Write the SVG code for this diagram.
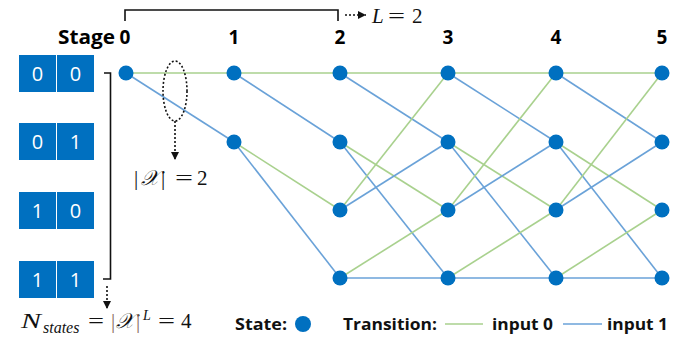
<svg xmlns="http://www.w3.org/2000/svg" width="690" height="339" viewBox="0 0 690 339">
<defs>
<style>
.g{stroke:#A9D18E;stroke-width:1.6;fill:none}
.b{stroke:#6AA2D8;stroke-width:1.6;fill:none}
.n{fill:#0070C0}
.box{fill:#0070C0}
.bt{font-family:"Open Sans","Liberation Sans",sans-serif;font-size:20px;fill:#fff;text-anchor:middle}
.st{font-family:"Open Sans","Liberation Sans",sans-serif;font-weight:bold;font-size:19px;fill:#000;text-anchor:middle}
.lg{font-family:"Open Sans","Liberation Sans",sans-serif;font-weight:bold;font-size:16px;fill:#111}
.m{font-family:"Liberation Serif","DejaVu Serif",serif;font-size:21px;fill:#111}
.i{font-style:italic}
.x{font-family:"DejaVu Serif",serif;font-style:italic}
.br{stroke:#111;stroke-width:1.6;fill:none}
.dot{stroke:#111;stroke-width:1.6;fill:none;stroke-dasharray:2 2}
</style>
<marker id="ah" viewBox="0 0 10 10" refX="10" refY="5" markerWidth="5" markerHeight="5" orient="auto">
<path d="M0,0 L10,5 L0,10 z" fill="#111"/>
</marker>
</defs>

<g id="state-boxes">
<g id="box-00"><rect class="box" x="19" y="55" width="37" height="37"/><rect class="box" x="57" y="55" width="37" height="37"/><text class="bt" x="37.5" y="81">0</text><text class="bt" x="75.5" y="81">0</text></g>
<g id="box-01"><rect class="box" x="19" y="123" width="37" height="37"/><rect class="box" x="57" y="123" width="37" height="37"/><text class="bt" x="37.5" y="149">0</text><text class="bt" x="75.5" y="149">1</text></g>
<g id="box-10"><rect class="box" x="19" y="192" width="37" height="37"/><rect class="box" x="57" y="192" width="37" height="37"/><text class="bt" x="37.5" y="218">1</text><text class="bt" x="75.5" y="218">0</text></g>
<g id="box-11"><rect class="box" x="19" y="261" width="37" height="37"/><rect class="box" x="57" y="261" width="37" height="37"/><text class="bt" x="37.5" y="287">1</text><text class="bt" x="75.5" y="287">1</text></g>
</g>

<g id="stage-labels">
<text class="st" x="86.5" y="44" textLength="57" lengthAdjust="spacingAndGlyphs">Stage</text>
<text class="st" x="125" y="44">0</text>
<text class="st" x="234" y="44">1</text>
<text class="st" x="340" y="44">2</text>
<text class="st" x="448" y="44">3</text>
<text class="st" x="556" y="44">4</text>
<text class="st" x="662" y="44">5</text>
</g>

<g id="connectors">
<line class="g" x1="126" y1="73" x2="234" y2="73"/>
<line class="b" x1="126" y1="73" x2="234" y2="142"/>
<line class="g" x1="234" y1="73" x2="340" y2="73"/>
<line class="b" x1="234" y1="73" x2="340" y2="142"/>
<line class="g" x1="234" y1="142" x2="340" y2="210"/>
<line class="b" x1="234" y1="142" x2="340" y2="278"/>
<g id="stage-2-3">
<line class="g" x1="340" y1="73" x2="448" y2="73"/>
<line class="b" x1="340" y1="73" x2="448" y2="142"/>
<line class="g" x1="340" y1="142" x2="448" y2="210"/>
<line class="b" x1="340" y1="142" x2="448" y2="278"/>
<line class="g" x1="340" y1="210" x2="448" y2="73"/>
<line class="b" x1="340" y1="210" x2="448" y2="142"/>
<line class="g" x1="340" y1="278" x2="448" y2="210"/>
<line class="b" x1="340" y1="278" x2="448" y2="278"/>
</g>
<g id="stage-3-4">
<line class="g" x1="448" y1="73" x2="556" y2="73"/>
<line class="b" x1="448" y1="73" x2="556" y2="142"/>
<line class="g" x1="448" y1="142" x2="556" y2="210"/>
<line class="b" x1="448" y1="142" x2="556" y2="278"/>
<line class="g" x1="448" y1="210" x2="556" y2="73"/>
<line class="b" x1="448" y1="210" x2="556" y2="142"/>
<line class="g" x1="448" y1="278" x2="556" y2="210"/>
<line class="b" x1="448" y1="278" x2="556" y2="278"/>
</g>
<g id="stage-4-5">
<line class="g" x1="556" y1="73" x2="662" y2="73"/>
<line class="b" x1="556" y1="73" x2="662" y2="142"/>
<line class="g" x1="556" y1="142" x2="662" y2="210"/>
<line class="b" x1="556" y1="142" x2="662" y2="278"/>
<line class="g" x1="556" y1="210" x2="662" y2="73"/>
<line class="b" x1="556" y1="210" x2="662" y2="142"/>
<line class="g" x1="556" y1="278" x2="662" y2="210"/>
<line class="b" x1="556" y1="278" x2="662" y2="278"/>
</g>
</g>

<g id="nodes">
<circle class="n" cx="126" cy="73" r="7.5"/>
<circle class="n" cx="234" cy="73" r="7.5"/>
<circle class="n" cx="234" cy="142" r="7.5"/>
<circle class="n" cx="340" cy="73" r="7.5"/>
<circle class="n" cx="340" cy="142" r="7.5"/>
<circle class="n" cx="340" cy="210" r="7.5"/>
<circle class="n" cx="340" cy="278" r="7.5"/>
<circle class="n" cx="448" cy="73" r="7.5"/>
<circle class="n" cx="448" cy="142" r="7.5"/>
<circle class="n" cx="448" cy="210" r="7.5"/>
<circle class="n" cx="448" cy="278" r="7.5"/>
<circle class="n" cx="556" cy="73" r="7.5"/>
<circle class="n" cx="556" cy="142" r="7.5"/>
<circle class="n" cx="556" cy="210" r="7.5"/>
<circle class="n" cx="556" cy="278" r="7.5"/>
<circle class="n" cx="662" cy="73" r="7.5"/>
<circle class="n" cx="662" cy="142" r="7.5"/>
<circle class="n" cx="662" cy="210" r="7.5"/>
<circle class="n" cx="662" cy="278" r="7.5"/>
</g>

<g id="memory-bracket">
<path class="br" d="M125,21 V10 H338 V21"/>
<line class="dot" x1="345" y1="15" x2="366" y2="15" marker-end="url(#ah)"/>
<text class="m" y="23"><tspan class="i" x="372">L</tspan><tspan x="388" textLength="17" lengthAdjust="spacingAndGlyphs">=</tspan><tspan x="412">2</tspan></text>
</g>

<g id="alphabet-annotation">
<ellipse class="dot" cx="175" cy="91" rx="12" ry="30"/>
<line class="dot" x1="175" y1="121" x2="175" y2="160" marker-end="url(#ah)"/>
<text class="m" y="185"><tspan x="134">|</tspan><tspan class="x" x="141">𝒳</tspan><tspan x="161">|</tspan><tspan x="175" textLength="18" lengthAdjust="spacingAndGlyphs">=</tspan><tspan x="197">2</tspan></text>
</g>

<g id="states-bracket">
<path class="br" d="M104,73 H110.5 V279 H103"/>
<line class="dot" x1="107" y1="286" x2="107" y2="309" marker-end="url(#ah)"/>
<text class="m" y="328"><tspan class="i" x="21" font-size="22" textLength="20" lengthAdjust="spacingAndGlyphs">N</tspan><tspan class="i" font-size="16" x="43" y="333">states</tspan><tspan x="88" y="328" textLength="16" lengthAdjust="spacingAndGlyphs">=</tspan><tspan x="111" fill="#8A6A60">|</tspan><tspan class="x" x="116">𝒳</tspan><tspan x="136" fill="#8A6A60">|</tspan><tspan class="i" font-size="14" x="143" y="320">L</tspan><tspan x="158" y="328" textLength="17" lengthAdjust="spacingAndGlyphs">=</tspan><tspan x="181">4</tspan></text>
</g>

<g id="legend">
<text class="lg" x="235" y="330" textLength="52" lengthAdjust="spacingAndGlyphs">State:</text>
<circle class="n" cx="303" cy="324" r="8"/>
<text class="lg" x="343" y="330" textLength="94" lengthAdjust="spacingAndGlyphs">Transition:</text>
<line class="g" x1="445" y1="324" x2="483" y2="324"/>
<text class="lg" x="492" y="330" textLength="61" lengthAdjust="spacingAndGlyphs">input 0</text>
<line class="b" x1="563" y1="324" x2="602" y2="324"/>
<text class="lg" x="607" y="330" textLength="61" lengthAdjust="spacingAndGlyphs">input 1</text>
</g>
</svg>
